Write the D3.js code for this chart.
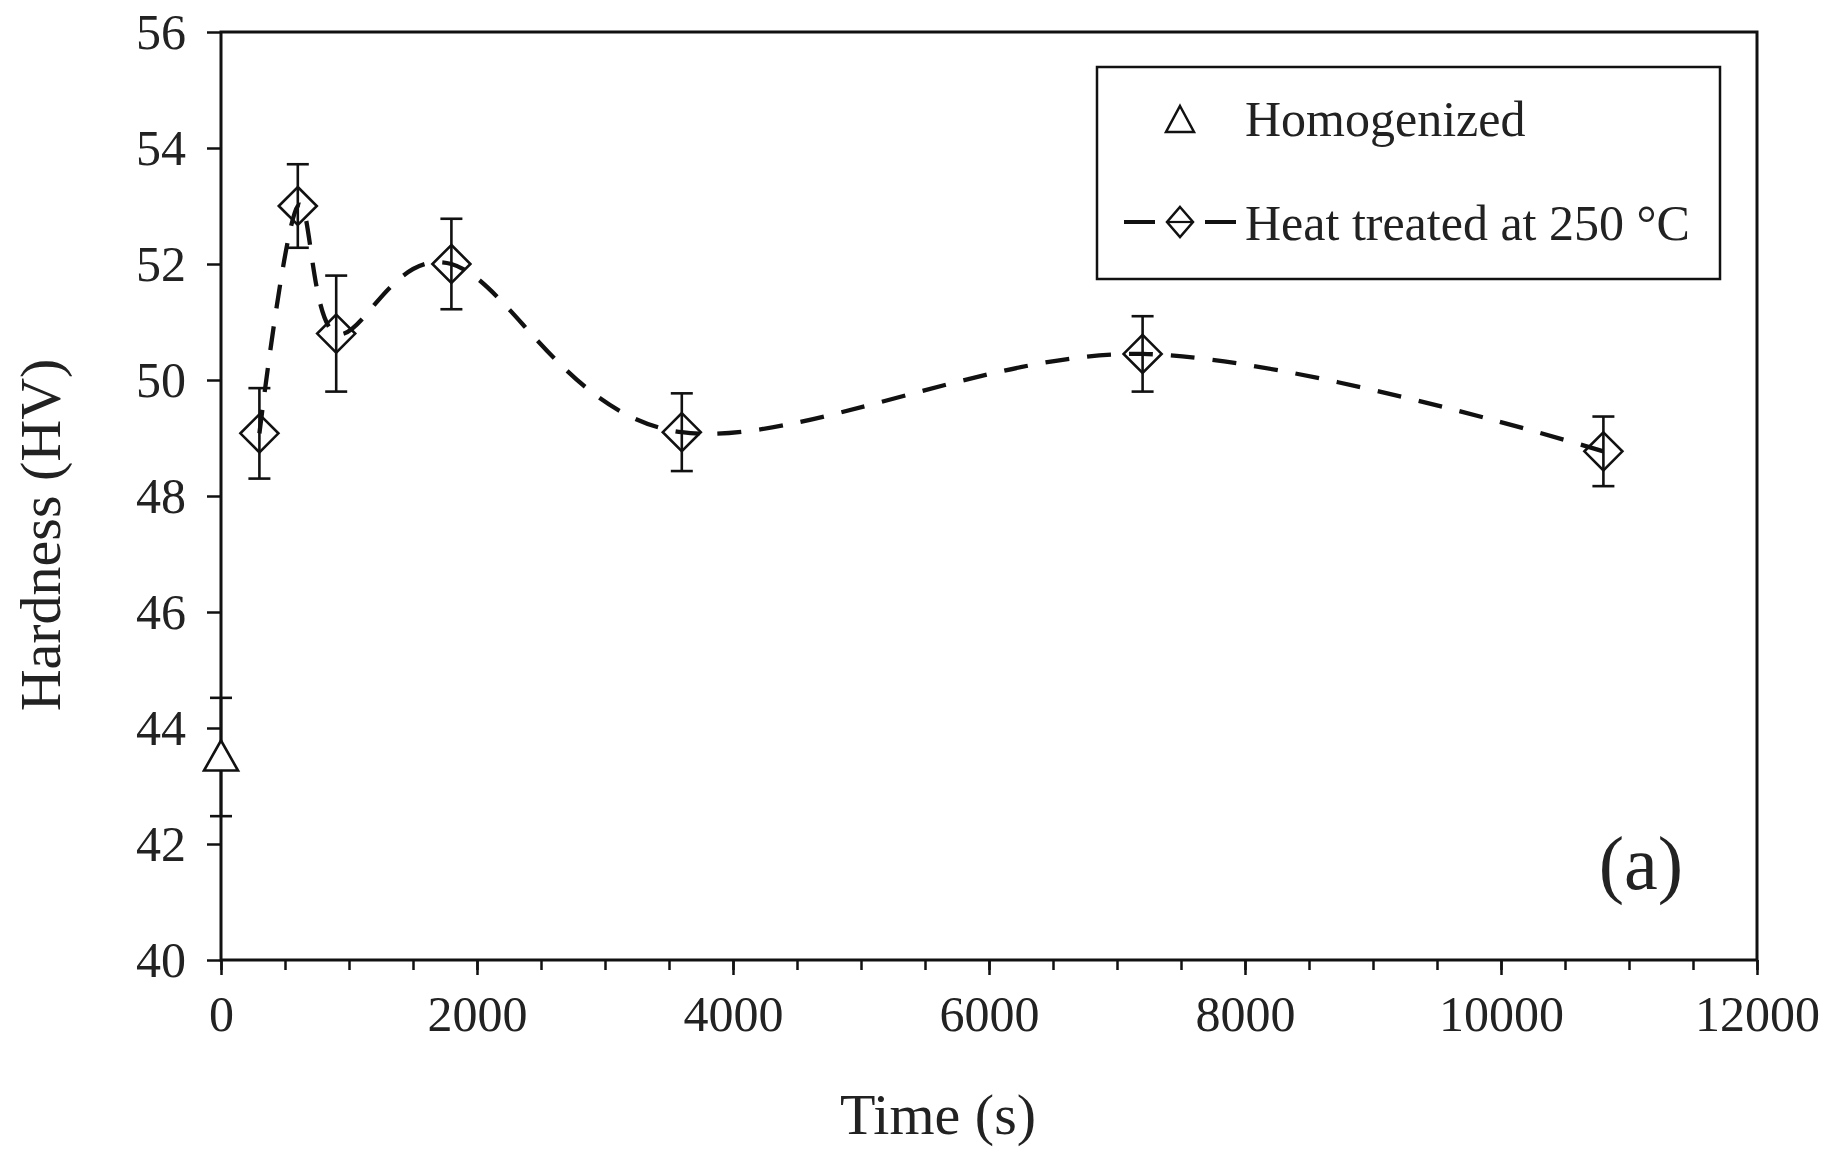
<!DOCTYPE html>
<html><head><meta charset="utf-8">
<script src="https://cdn.jsdelivr.net/npm/d3@7"></script>
<style>body{margin:0;background:#fff}svg{display:block}</style>
</head><body>
<svg id="c" width="1845" height="1151"></svg>
<script>
// ---- data ----
const homogTime = [0];
const homogHardness = [43.5];
const homogError = [1.02];

const heatTime = [300, 600, 900, 1800, 3600, 7200, 10800];
const heatHardness = [49.08, 53.0, 50.8, 52.0, 49.1, 50.45, 48.77];
const heatError = [0.78, 0.72, 1.0, 0.78, 0.67, 0.65, 0.6];

const xTickValues = [0, 2000, 4000, 6000, 8000, 10000, 12000];
const xMinorTickValues = d3.range(0, 12001, 500);
const yTickValues = [40, 42, 44, 46, 48, 50, 52, 54, 56];
const legendLabels = ["Homogenized", "Heat treated at 250 °C"];

// ---- layout ----
const svg = d3.select("#c");
const m = {l: 221, t: 32, r: 1845 - 1757, b: 1151 - 960};
const W = 1845 - m.l - m.r, H = 1151 - m.t - m.b;
const font = "'Liberation Serif','Times New Roman',serif";
const g = svg.append("g").attr("transform", `translate(${m.l},${m.t})`);

const x = d3.scaleLinear().domain([0, 12000]).range([0, W]);
const y = d3.scaleLinear().domain([40, 56]).range([H, 0]);

// minor x ticks
g.append("g").attr("transform", `translate(0,${H})`)
  .call(d3.axisBottom(x).tickValues(xMinorTickValues).tickSize(10).tickSizeOuter(0).tickFormat(""))
  .call(a => a.select(".domain").remove())
  .call(a => a.selectAll("line").attr("stroke", "#111").attr("stroke-width", 2.5));

// major x axis
g.append("g").attr("transform", `translate(0,${H})`)
  .call(d3.axisBottom(x).tickValues(xTickValues).tickSize(15).tickSizeOuter(0).tickPadding(20).tickFormat(d3.format("d")))
  .call(a => a.select(".domain").remove())
  .call(a => a.selectAll("line").attr("stroke", "#111").attr("stroke-width", 2.5))
  .call(a => a.selectAll("text").attr("font-family", font).attr("font-size", 50).attr("fill", "#222"));

// y axis
g.append("g")
  .call(d3.axisLeft(y).tickValues(yTickValues).tickSize(14).tickSizeOuter(0).tickPadding(21).tickFormat(d3.format("d")))
  .call(a => a.select(".domain").remove())
  .call(a => a.selectAll("line").attr("stroke", "#111").attr("stroke-width", 2.5))
  .call(a => a.selectAll("text").attr("font-family", font).attr("font-size", 50).attr("fill", "#222"));

// frame
g.append("rect").attr("x", 0).attr("y", 0).attr("width", W).attr("height", H)
  .attr("fill", "none").attr("stroke", "#111").attr("stroke-width", 3);

// axis titles
svg.append("text").attr("x", 938).attr("y", 1134).attr("text-anchor", "middle")
  .attr("font-family", font).attr("font-size", 58).attr("fill", "#222").text("Time (s)");
svg.append("text").attr("transform", `translate(60,535) rotate(-90)`).attr("text-anchor", "middle")
  .attr("font-family", font).attr("font-size", 58).attr("fill", "#222").text("Hardness (HV)");

// panel label
svg.append("text").attr("x", 1641).attr("y", 889).attr("text-anchor", "middle")
  .attr("font-family", font).attr("font-size", 76).attr("fill", "#222").text("(a)");

// heat treated data
const heat = heatTime.map((t, i) => ({t, h: heatHardness[i], e: heatError[i]}));
const homog = homogTime.map((t, i) => ({t, h: homogHardness[i], e: homogError[i]}));

const line = d3.line().x(d => x(d.t)).y(d => y(d.h)).curve(d3.curveCardinal.tension(0));
g.append("path").datum(heat).attr("d", line).attr("fill", "none")
  .attr("stroke", "#111").attr("stroke-width", 4.3).attr("stroke-dasharray", "24,18");

function errorBars(data) {
  const eg = g.append("g").attr("stroke", "#111").attr("stroke-width", 2.6);
  data.forEach(d => {
    const cx = x(d.t);
    eg.append("line").attr("x1", cx).attr("x2", cx).attr("y1", y(d.h + d.e)).attr("y2", y(d.h - d.e));
    [d.h + d.e, d.h - d.e].forEach(v => eg.append("line").attr("x1", cx - 11).attr("x2", cx + 11).attr("y1", y(v)).attr("y2", y(v)));
  });
}
errorBars(heat);
errorBars(homog);

// diamonds
const dr = 19;
g.selectAll(".dia").data(heat).join("path").attr("class", "dia")
  .attr("d", d => { const cx = x(d.t), cy = y(d.h); return `M${cx},${cy - dr}L${cx + dr},${cy}L${cx},${cy + dr}L${cx - dr},${cy}Z`; })
  .attr("fill", "none").attr("stroke", "#111").attr("stroke-width", 2.6);

// triangle
const tw = 17, th = 30;
g.selectAll(".tri").data(homog).join("path").attr("class", "tri")
  .attr("d", d => { const cx = x(d.t), cy = y(d.h); return `M${cx},${cy - th * 0.55}L${cx + tw},${cy + th * 0.45}L${cx - tw},${cy + th * 0.45}Z`; })
  .attr("fill", "#fff").attr("stroke", "#111").attr("stroke-width", 2.6);

// legend
const lg = svg.append("g");
lg.append("rect").attr("x", 1097).attr("y", 67).attr("width", 623).attr("height", 212)
  .attr("fill", "#fff").attr("stroke", "#111").attr("stroke-width", 2.5);
// triangle symbol
lg.append("path").attr("d", "M1180,106L1194,132L1166,132Z").attr("fill", "none").attr("stroke", "#111").attr("stroke-width", 2.5);
lg.append("text").attr("x", 1245).attr("y", 136).attr("font-family", font).attr("font-size", 50).attr("fill", "#222").text(legendLabels[0]);
// line + diamond symbol
lg.append("line").attr("x1", 1124).attr("x2", 1155).attr("y1", 222).attr("y2", 222).attr("stroke", "#111").attr("stroke-width", 4);
lg.append("line").attr("x1", 1205).attr("x2", 1236).attr("y1", 222).attr("y2", 222).attr("stroke", "#111").attr("stroke-width", 4);
lg.append("path").attr("d", "M1180,207L1193,222L1180,237L1167,222Z").attr("fill", "none").attr("stroke", "#111").attr("stroke-width", 2.5);
lg.append("line").attr("x1", 1168).attr("x2", 1192).attr("y1", 222).attr("y2", 222).attr("stroke", "#111").attr("stroke-width", 2.2);
lg.append("text").attr("x", 1245).attr("y", 240).attr("font-family", font).attr("font-size", 50).attr("fill", "#222").text(legendLabels[1]);
</script>
</body></html>
